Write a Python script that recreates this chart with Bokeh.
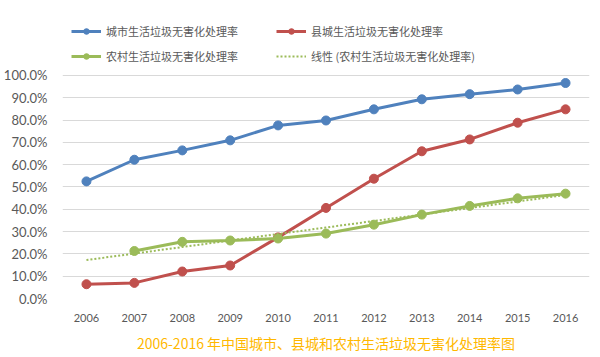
import numpy as np
from bokeh.plotting import figure
from bokeh.models import Legend, LegendItem, NumeralTickFormatter, Title, FactorRange, Range1d
from bokeh.embed import file_html
from bokeh.resources import INLINE

years = ["2006", "2007", "2008", "2009", "2010", "2011", "2012", "2013", "2014", "2015", "2016"]
urban = [52.5, 62.2, 66.4, 70.9, 77.6, 79.8, 84.8, 89.3, 91.6, 93.7, 96.6]
county = [6.4, 7.0, 12.1, 14.8, 27.4, 40.6, 53.7, 66.0, 71.3, 78.8, 84.8]
rural = [np.nan, 21.3, 25.4, 26.0, 26.9, 29.1, 33.1, 37.6, 41.5, 44.9, 47.0]

name_urban = "城市生活垃圾无害化处理率"
name_county = "县城生活垃圾无害化处理率"
name_rural = "农村生活垃圾无害化处理率"
name_trend = "线性 (农村生活垃圾无害化处理率)"
title_text = "2006-2016 年中国城市、县城和农村生活垃圾无害化处理率图"

BLUE = "#4F81BD"
RED = "#C0504D"
GREEN = "#9BBB59"
CJK = "Noto Sans CJK SC"

# linear trend of rural series (Excel trendline)
idx = np.arange(1, len(years) + 1)
r = np.array(rural)
mask = ~np.isnan(r)
k, b = np.polyfit(idx[mask], r[mask], 1)
trend = k * idx + b

p = figure(frame_width=527, frame_height=290, x_range=FactorRange(*years), y_range=Range1d(0, 1.3),
           output_backend="svg", toolbar_location=None,
           min_border_left=52, min_border_right=5, min_border_top=8, min_border_bottom=0)
p.outline_line_color = None
p.background_fill_color = "white"

def pc(vals):
    return [v / 100.0 for v in vals]

l1 = p.line(years, pc(urban), line_color=BLUE, line_width=3)
s1 = p.scatter(years, pc(urban), size=9, color=BLUE)
l2 = p.line(years, pc(county), line_color=RED, line_width=3)
s2 = p.scatter(years, pc(county), size=9, color=RED)
l3 = p.line(years, pc(list(rural)), line_color=GREEN, line_width=3)
s3 = p.scatter(years, pc(list(rural)), size=9, color=GREEN)
l4 = p.line(years, pc(list(trend)), line_color=GREEN, line_width=2, line_dash="2 2")

p.xgrid.grid_line_color = None
p.ygrid.grid_line_color = "#D9D9D9"
p.ygrid.grid_line_width = 1
p.yaxis.ticker = [i / 10 for i in range(11)]
p.yaxis.formatter = NumeralTickFormatter(format="0.0%")
for ax in (p.xaxis, p.yaxis):
    ax.axis_line_color = None
    ax.major_tick_line_color = None
    ax.minor_tick_line_color = None
    ax.major_label_text_color = "#595959"
    ax.major_label_text_font = "Lato"
p.yaxis.major_label_text_font_size = "13px"
p.xaxis.major_label_text_font_size = "11px"
p.yaxis.major_label_standoff = 9
p.xaxis.major_label_standoff = 9

legend = Legend(items=[
    LegendItem(label=name_urban, renderers=[l1, s1]),
    LegendItem(label=name_county, renderers=[l2, s2]),
    LegendItem(label=name_rural, renderers=[l3, s3]),
    LegendItem(label=name_trend, renderers=[l4]),
], orientation="horizontal", nrows=2, location=(9, 234),
    label_text_font=CJK, label_text_font_size="11px", label_text_color="#595959",
    glyph_width=30, glyph_height=14, spacing=9, label_standoff=5, label_width=161,
    border_line_color=None, background_fill_alpha=0, padding=4, margin=0)
p.add_layout(legend, "center")

t = Title(text=title_text, align="center", text_color="#FFB800", text_font=CJK,
          text_font_size="14px", text_font_style="normal", offset=0, standoff=12)
p.add_layout(t, "below")

open("out.html", "w").write(file_html(p, INLINE))
